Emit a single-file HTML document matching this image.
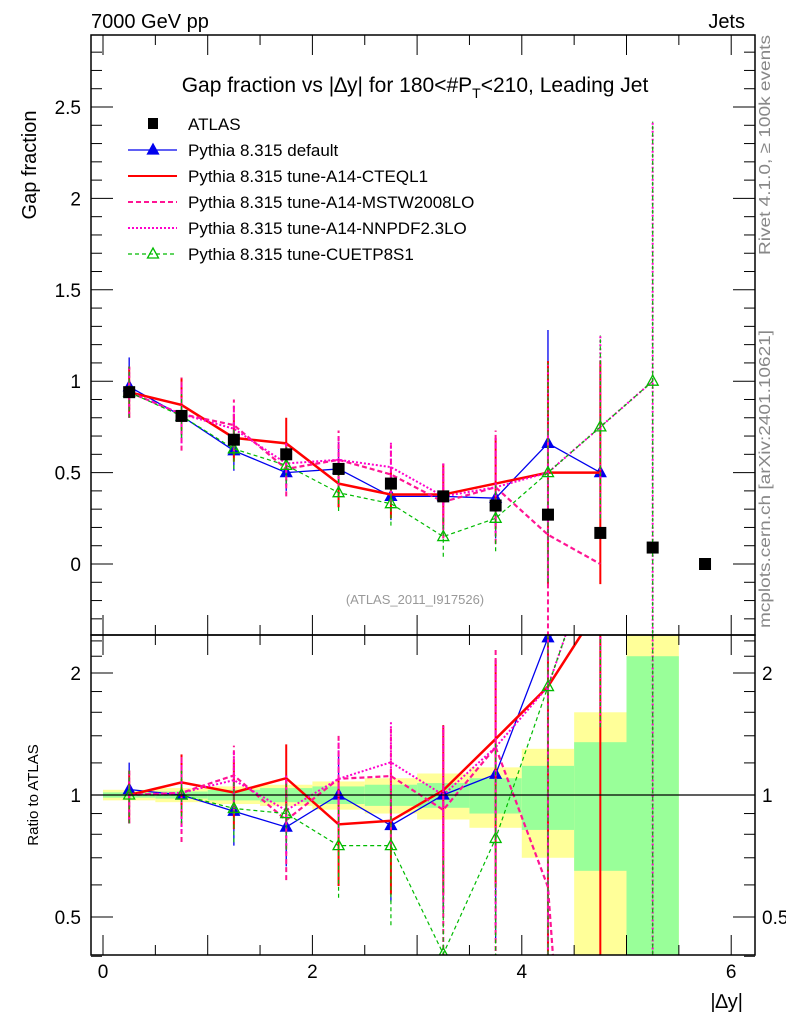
<!DOCTYPE html>
<html><head><meta charset="utf-8"><style>
html,body{margin:0;padding:0;background:#fff;width:786px;height:1024px;overflow:hidden}
svg{font-family:"Liberation Sans",sans-serif;display:block}
</style></head><body>
<svg id="chart" width="786" height="1024" viewBox="0 0 786 1024" xmlns="http://www.w3.org/2000/svg">
<defs>
<clipPath id="cm"><rect x="91" y="35" width="664" height="600"/></clipPath>
<clipPath id="cr"><rect x="91" y="635" width="664" height="320"/></clipPath>
</defs>
<g id="bands" clip-path="url(#cr)"></g>
<g id="main" clip-path="url(#cm)"></g>
<g id="ratio" clip-path="url(#cr)"></g>
<g id="axes"></g>
<text x="91" y="28" font-size="20">7000 GeV pp</text>
<text x="745" y="28" font-size="20" text-anchor="end">Jets</text>
<text x="415" y="92" font-size="21" text-anchor="middle">Gap fraction vs |∆y| for 180&lt;#P<tspan font-size="14" dy="6">T</tspan><tspan dy="-6">&lt;210, Leading Jet</tspan></text>
<text transform="translate(36,165) rotate(-90)" font-size="20" text-anchor="middle">Gap fraction</text>
<text transform="translate(38,795) rotate(-90)" font-size="15" text-anchor="middle">Ratio to ATLAS</text>
<text x="743" y="1008" font-size="20" text-anchor="end">|∆y|</text>
<text transform="translate(770,255) rotate(-90)" font-size="16" fill="#888" textLength="220" lengthAdjust="spacingAndGlyphs">Rivet 4.1.0, ≥ 100k events</text>
<text transform="translate(770,628) rotate(-90)" font-size="16" fill="#888" textLength="298" lengthAdjust="spacingAndGlyphs">mcplots.cern.ch [arXiv:2401.10621]</text>
<text x="415" y="604" font-size="13" fill="#999" text-anchor="middle">(ATLAS_2011_I917526)</text>
<g id="legend"></g>
</svg>
<script>
const xs=[0.25,0.75,1.25,1.75,2.25,2.75,3.25,3.75,4.25,4.75,5.25,5.75];
const atlas=[0.94,0.81,0.68,0.60,0.52,0.44,0.37,0.32,0.27,0.17,0.09,0.0];
const statRel=[0.015,0.02,0.03,0.04,0.05,0.06,0.07,0.1,0.18,0.35,1.2,0];
const totRel=[0.03,0.04,0.05,0.06,0.08,0.10,0.13,0.17,0.3,0.6,1.6,0];
const blue=[0.97,0.81,0.62,0.50,0.52,0.37,0.37,0.36,0.66,0.50];
const blueErr=[0.16,0.12,0.11,0.10,0.15,0.13,0.18,0.22,0.62,0];
const red=[0.94,0.87,0.69,0.66,0.44,0.38,0.38,0.44,0.50,0.50];
const redErr=[0.14,0.15,0.13,0.14,0.13,0.13,0.17,0.25,0.61,0.61];
const mstw=[0.94,0.82,0.76,0.52,0.57,0.49,0.34,0.42,0.16,0.0];
const mstwErr=[0.14,0.2,0.14,0.15,0.16,0.16,0.2,0.31,0.6,0];
const nnpdf=[0.94,0.82,0.74,0.55,0.57,0.53,0.37,0.42,0.50,0.75,1.0];
const nnpdfErr=[0.14,0.16,0.13,0.12,0.13,0.14,0.18,0.27,0.6,0.5,1.42];
const cuet=[0.94,0.81,0.63,0.54,0.39,0.33,0.15,0.25,0.50,0.75,1.0];
const cuetErr=[0.14,0.12,0.11,0.1,0.1,0.12,0.11,0.18,0.6,0.5,1.42];
const yTicks=[0,0.5,1,1.5,2,2.5];
const rTicks=[0.5,1,2];
const xTicks=[0,2,4,6];
const NS="http://www.w3.org/2000/svg";
const X=v=>103+v*104.7, Y=v=>564-v*182.8, R=r=>795-Math.log2(Math.max(r,0.01))*122;
function mk(par,tag,at){const e=document.createElementNS(NS,tag);for(const k in at)e.setAttribute(k,at[k]);document.getElementById(par).appendChild(e);return e;}
for(let i=0;i<11;i++){const x0=X(xs[i]-0.25),w=X(0.5)-X(0);
 const y1=mk('bands','rect',{x:x0,y:R(1+totRel[i]),width:w,height:R(Math.max(1-totRel[i],0.02))-R(1+totRel[i]),fill:'#ffff99'});
 
 
 const y2=mk('bands','rect',{x:x0,y:R(1+statRel[i]),width:w,height:R(Math.max(1-statRel[i],0.02))-R(1+statRel[i]),fill:'#99ff99'});
 
 }
const series=[
 {v:blue,e:blueErr,c:'#0000ee',w:1.3,d:'',m:'tri',n:'default'},
 {v:red,e:redErr,c:'#ff0000',w:2.5,d:'',m:'',n:'cteql1'},
 {v:mstw,e:mstwErr,c:'#ff1493',w:2.2,d:'5,3',m:'',n:'mstw2008lo'},
 {v:nnpdf,e:nnpdfErr,c:'#ff00cc',w:2,d:'2,2',m:'',n:'nnpdf23lo'},
 {v:cuet,e:cuetErr,c:'#00bb00',w:1.2,d:'4,3',m:'otri',n:'cuetp8s1'}];
function tri(g,x,y,s,open){const p=mk(g,'path',{d:`M${x},${y-6}L${x+5.5},${y+4}L${x-5.5},${y+4}Z`,fill:open?'none':s.c,stroke:s.c,'stroke-width':1.3});}
series.forEach(s=>{
 const pts=s.v.map((v,i)=>X(xs[i])+','+Y(v)).join(' ');
 const pl=mk('main','polyline',{points:pts,fill:'none',stroke:s.c,'stroke-width':s.w,'stroke-dasharray':s.d});
 
 
 const rp=s.v.map((v,i)=>X(xs[i])+','+R(v/atlas[i])).join(' ');
 const rl=mk('ratio','polyline',{points:rp,fill:'none',stroke:s.c,'stroke-width':s.w,'stroke-dasharray':s.d});
 
 
 s.v.forEach((v,i)=>{const x=X(xs[i]);
  if(s.e[i]>0){const eb=mk('main','line',{x1:x,x2:x,y1:Y(v-s.e[i]),y2:Y(v+s.e[i]),stroke:s.c,'stroke-width':Math.min(s.w,2),'stroke-dasharray':s.d});
   
   
   const a=atlas[i];
   const re=mk('ratio','line',{x1:x,x2:x,y1:R((v-s.e[i])/a),y2:R((v+s.e[i])/a),stroke:s.c,'stroke-width':Math.min(s.w,2),'stroke-dasharray':s.d});
   
   }
  if(s.m){tri('main',x,Y(v),s,s.m==='otri');tri('ratio',x,R(v/atlas[i]),s,s.m==='otri');}
 });
});
atlas.forEach((v,i)=>{const r=mk('main','rect',{x:X(xs[i])-6,y:Y(v)-6,width:12,height:12,fill:'#000'});
 
 });
const one=mk('ratio','line',{x1:91,x2:755,y1:R(1),y2:R(1),stroke:'#000','stroke-width':1.2});


[[35,600],[635,320]].forEach(([y,h])=>{const f=mk('axes','rect',{x:91,y:y,width:664,height:h,fill:'none',stroke:'#000','stroke-width':1.5});});
for(let v=-0.3;v<=2.9;v+=0.1){const vv=Math.round(v*10)/10,y=Y(vv);if(y<35||y>635)continue;const big=Math.abs(vv*2-Math.round(vv*2))<1e-6;const L=big?22:11;
 mk('axes','line',{x1:91,x2:91+L,y1:y,y2:y,stroke:'#000'});mk('axes','line',{x1:755-L,x2:755,y1:y,y2:y,stroke:'#000'});}
yTicks.forEach(t=>{const e=mk('axes','text',{x:81,y:Y(t)+7,'font-size':19,'text-anchor':'end'});e.textContent=t;});
[0.4,0.5,0.6,0.7,0.8,0.9,1,1.2,1.4,1.6,1.8,2,2.2,2.4].forEach(r=>{const y=R(r);const big=rTicks.includes(r);const L=big?22:11;
 mk('axes','line',{x1:91,x2:91+L,y1:y,y2:y,stroke:'#000'});mk('axes','line',{x1:755-L,x2:755,y1:y,y2:y,stroke:'#000'});});
rTicks.forEach(t=>{let e=mk('axes','text',{x:81,y:R(t)+7,'font-size':19,'text-anchor':'end'});e.textContent=t;
 e=mk('axes','text',{x:762,y:R(t)+7,'font-size':19});e.textContent=t;});
for(let k=0;k<=12;k++){const v=k*0.5,x=X(v);const L=(k%2===0)?20:10;
 [[35,1],[635,-1],[635,1],[955,-1]].forEach(([y,d])=>mk('axes','line',{x1:x,x2:x,y1:y,y2:y+d*L,stroke:'#000'}));}
xTicks.forEach(t=>{const e=mk('axes','text',{x:X(t),y:978,'font-size':19,'text-anchor':'middle'});e.textContent=t;});
const names=['ATLAS','Pythia 8.315 default','Pythia 8.315 tune-A14-CTEQL1','Pythia 8.315 tune-A14-MSTW2008LO','Pythia 8.315 tune-A14-NNPDF2.3LO','Pythia 8.315 tune-CUETP8S1'];
names.forEach((n,i)=>{const y=124+i*26;
 if(i===0){mk('legend','rect',{x:148,y:y-6,width:10,height:11,fill:'#000'});}
 else{const s=series[i-1];mk('legend','line',{x1:128,x2:177,y1:y,y2:y,stroke:s.c,'stroke-width':Math.min(s.w,2),'stroke-dasharray':s.d});
  if(s.m)tri('legend',153,y,s,s.m==='otri');}
 const t=mk('legend','text',{x:188,y:y+6,'font-size':17});t.textContent=n;
 
 });
</script>
</body></html>
